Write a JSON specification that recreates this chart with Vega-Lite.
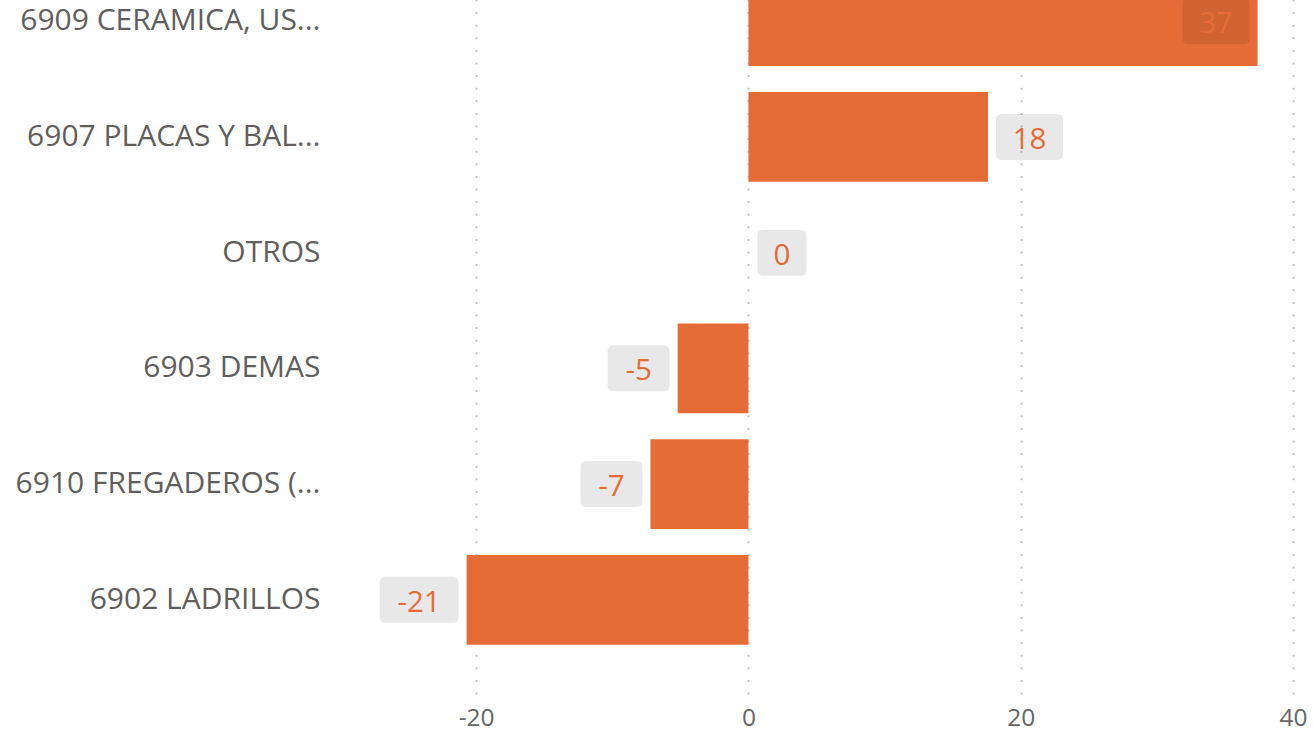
{
  "$schema": "https://vega.github.io/schema/vega-lite/v6.json",
  "autosize": "none",
  "width": 953,
  "height": 767,
  "padding": {"left": 340, "top": -73, "right": 20, "bottom": 39},
  "background": "white",
  "config": {
    "view": {"stroke": null},
    "font": "Open Sans",
    "locale": {"number": {"decimal": ".", "thousands": ",", "grouping": [3], "currency": ["$", ""], "minus": "-"}}
  },
  "data": {
    "values": [
      {"cat": "6909 CERAMICA, US...", "v": 37.4},
      {"cat": "6907 PLACAS Y BAL...", "v": 17.6},
      {"cat": "OTROS", "v": 0},
      {"cat": "6903 DEMAS", "v": -5.2},
      {"cat": "6910 FREGADEROS (...", "v": -7.2},
      {"cat": "6902 LADRILLOS", "v": -20.7}
    ]
  },
  "encoding": {
    "y": {
      "field": "cat", "type": "nominal", "sort": null,
      "scale": {"paddingInner": 0.225, "paddingOuter": 0.426},
      "axis": {"title": null, "ticks": false, "domain": false, "labelFontSize": 30, "labelColor": "#605E5C", "labelPadding": 20, "labelLimit": 400, "labelFont": "Open Sans"}
    },
    "x": {
      "field": "v", "type": "quantitative",
      "scale": {"domain": [-30, 40], "nice": false, "zero": false},
      "axis": {"title": null, "values": [-20, 0, 20, 40], "ticks": false, "domain": false, "grid": true, "gridDash": [2, 10.6], "gridColor": "#c4c4c4", "gridWidth": 2, "labelFontSize": 24.5, "labelColor": "#666666", "labelPadding": 12, "labelFont": "Open Sans", "labelFlush": false, "labelOverlap": false}
    }
  },
  "layer": [
    {"mark": {"type": "bar", "color": "#E66C37"}},
    {
      "mark": {"type": "point", "filled": true, "color": "#000000", "opacity": 0.09, "size": 40000, "strokeWidth": 0},
      "encoding": {
        "shape": {
          "condition": [
            {"test": "datum.v > 30", "value": "M-0.69,-0.23H-0.14Q-0.08,-0.23 -0.08,-0.17V0.17Q-0.08,0.23 -0.14,0.23H-0.69Q-0.75,0.23 -0.75,0.17V-0.17Q-0.75,-0.23 -0.69,-0.23Z"},
            {"test": "datum.v >= 9.5", "value": "M0.14,-0.23H0.69Q0.75,-0.23 0.75,-0.17V0.17Q0.75,0.23 0.69,0.23H0.14Q0.08,0.23 0.08,0.17V-0.17Q0.08,-0.23 0.14,-0.23Z"},
            {"test": "datum.v >= 0", "value": "M0.15,-0.23H0.52Q0.58,-0.23 0.58,-0.17V0.17Q0.58,0.23 0.52,0.23H0.15Q0.09,0.23 0.09,0.17V-0.17Q0.09,-0.23 0.15,-0.23Z"},
            {"test": "datum.v > -9.5", "value": "M-0.64,-0.23H-0.14Q-0.08,-0.23 -0.08,-0.17V0.17Q-0.08,0.23 -0.14,0.23H-0.64Q-0.70,0.23 -0.70,0.17V-0.17Q-0.70,-0.23 -0.64,-0.23Z"}
          ],
          "value": "M-0.81,-0.23H-0.14Q-0.08,-0.23 -0.08,-0.17V0.17Q-0.08,0.23 -0.14,0.23H-0.81Q-0.87,0.23 -0.87,0.17V-0.17Q-0.87,-0.23 -0.81,-0.23Z"
        }
      }
    },
    {
      "mark": {"type": "text", "color": "#E66C37", "fontSize": 29.5, "font": "Open Sans", "align": "center", "baseline": "middle", "dy": 3,
        "dx": {"expr": "datum.v > 30 ? -41.5 : datum.v >= 0 ? (datum.v < 9.5 ? 33.5 : 41.5) : (datum.v <= -9.5 ? -47.5 : -39)"}},
      "encoding": {"text": {"field": "v", "type": "quantitative", "format": ".0f"}}
    }
  ]
}
